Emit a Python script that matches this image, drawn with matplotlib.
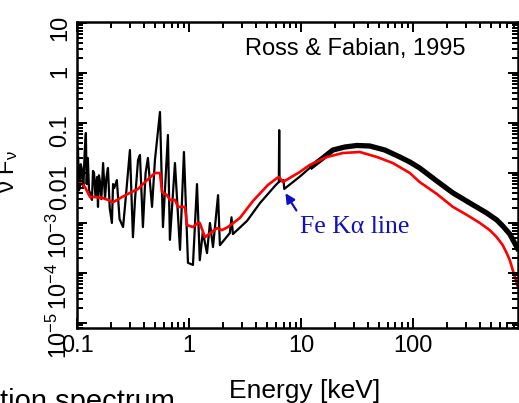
import matplotlib
matplotlib.use("Agg")
import matplotlib.pyplot as plt
import numpy as np
from matplotlib.ticker import LogLocator, FixedLocator, FixedFormatter, NullFormatter
from matplotlib.transforms import blended_transform_factory

plt.rcParams['font.family'] = ['Liberation Sans', 'DejaVu Sans']
plt.rcParams['mathtext.fontset'] = 'custom'
plt.rcParams['mathtext.rm'] = 'Liberation Sans'
plt.rcParams['mathtext.it'] = 'Liberation Sans'
plt.rcParams['mathtext.default'] = 'regular'

# Black: reflection spectrum (energy keV, nu F_nu)
black_E = [0.100, 0.102, 0.104, 0.106, 0.108, 0.111, 0.114, 0.117, 0.120, 0.122,
           0.125, 0.128, 0.131, 0.136, 0.139, 0.142, 0.146, 0.151, 0.154, 0.157,
           0.160, 0.165, 0.171, 0.178, 0.183, 0.189, 0.196, 0.205, 0.210, 0.215,
           0.227, 0.240, 0.258, 0.275, 0.297, 0.316, 0.330, 0.351, 0.365, 0.388,
           0.410, 0.430, 0.468, 0.497, 0.551, 0.586, 0.649, 0.676, 0.750, 0.832,
           0.902, 0.980, 1.086, 1.18, 1.25, 1.33, 1.45, 1.54, 1.64, 1.82,
           1.89, 2.32, 2.40, 2.47, 3.3, 4.31, 5.86, 6.35, 6.40, 6.45,
           7.0, 7.1, 8.5, 9.8, 12.0, 14.8, 19.3, 24.7, 31.6, 41.3,
           56.2, 76.5, 94, 115, 164, 228, 323, 458, 562, 636,
           735, 849, 883]
black_F = [0.0070, 0.033, 0.0045, 0.0050, 0.0150, 0.0115, 0.0050, 0.0250, 0.063, 0.0060,
           0.020, 0.0045, 0.0040, 0.0029, 0.0110, 0.0100, 0.0035, 0.0083, 0.0021, 0.0090,
           0.0070, 0.0030, 0.0158, 0.0030, 0.0080, 0.0126, 0.0020, 0.0010, 0.0060, 0.0050,
           0.0072, 0.0012, 0.00083, 0.0040, 0.0288, 0.00052, 0.0030, 0.0182, 0.0229, 0.00083,
           0.0100, 0.0200, 0.0021, 0.0182, 0.166, 0.00083, 0.0575, 0.00046, 0.0158, 0.00029,
           0.0263, 0.00016, 0.000145, 0.0060, 0.00018, 0.00066, 0.00025, 0.0010, 0.00033, 0.0036,
           0.00036, 0.00063, 0.0013, 0.00060, 0.0011, 0.0025, 0.0055, 0.0066, 0.072, 0.0068,
           0.0072, 0.0048, 0.0066, 0.0085, 0.0126, 0.018, 0.0288, 0.0331, 0.0355, 0.0347,
           0.0288, 0.0209, 0.0166, 0.0126, 0.0069, 0.0040, 0.00251, 0.00158, 0.00115, 0.00087,
           0.00060, 0.00033, 0.00028]

# Red: comparison spectrum
red_E = [0.100, 0.106, 0.118, 0.131, 0.145, 0.167, 0.189, 0.210, 0.252, 0.297,
         0.351, 0.405, 0.497, 0.551, 0.574, 0.637, 0.676, 0.750, 0.798, 0.921,
         0.960, 1.086, 1.20, 1.25, 1.39, 1.60, 1.78, 1.97, 2.23, 2.85,
         3.73, 5.07, 6.1, 6.4, 6.9, 8.5, 9.8, 12.0, 17.1, 23.7,
         33.6, 47.8, 66.3, 94, 115, 164, 228, 304, 397, 487,
         562, 636, 690, 735, 781, 832, 867]
red_F = [0.0063, 0.0066, 0.0052, 0.0033, 0.0033, 0.0032, 0.0029, 0.0026, 0.0033, 0.0040,
         0.0048, 0.0066, 0.0100, 0.0100, 0.0042, 0.0036, 0.0029, 0.0029, 0.0021, 0.0021,
         0.00091, 0.00083, 0.0010, 0.0010, 0.00052, 0.00066, 0.00079, 0.00072, 0.00083, 0.00126,
         0.00275, 0.00575, 0.0079, 0.0083, 0.0066, 0.0087, 0.0105, 0.0145, 0.0209, 0.0251,
         0.0263, 0.0209, 0.0158, 0.0100, 0.0066, 0.0038, 0.0021, 0.00145, 0.0010, 0.00072,
         0.00052, 0.00036, 0.00025, 0.00018, 0.000115, 0.000072, 0.000052]

x_ticks = [0.1, 1, 10, 100]
x_labels = ['0.1', '1', '10', '100']
y_ticks = [1e1, 1, 0.1, 0.01, 1e-3, 1e-4, 1e-5]
y_labels = ['10', '1', '0.1', '0.01', '$10^{-3}$', '$10^{-4}$', '$10^{-5}$']

W, H = 519, 403
AX_L, AX_B, AX_W, AX_H = 77, 75, 441, 306   # axes box in pixels
fig = plt.figure(figsize=(W / 100, H / 100), dpi=100)
ax = fig.add_axes([AX_L / W, AX_B / H, AX_W / W, AX_H / H])

ax.set_xscale('log'); ax.set_yscale('log')
ax.set_xlim(0.1, 870)
ax.set_ylim(10**-5.1, 10**1.02)

ax.xaxis.set_major_locator(FixedLocator(x_ticks))
ax.xaxis.set_major_formatter(FixedFormatter(x_labels))
ax.xaxis.set_minor_locator(LogLocator(base=10, subs=np.arange(2, 10), numticks=20))
ax.xaxis.set_minor_formatter(NullFormatter())
ax.yaxis.set_major_locator(FixedLocator(y_ticks))
ax.yaxis.set_major_formatter(FixedFormatter(y_labels))
ax.yaxis.set_minor_locator(LogLocator(base=10, subs=np.arange(2, 10), numticks=20))
ax.yaxis.set_minor_formatter(NullFormatter())

ax.tick_params(which='both', direction='in', top=True, right=True,
               bottom=True, left=True, width=1.4, color='black')
ax.tick_params(which='major', length=7)
ax.tick_params(which='minor', length=4)
ax.tick_params(axis='x', which='major', labelsize=17, pad=5)
ax.tick_params(axis='y', which='major', labelsize=17, pad=4, labelrotation=90)
for s in ax.spines.values():
    s.set_linewidth(1.8)

bE = np.array(black_E); bF = np.array(black_F)
ax.plot(bE, bF, color='black', lw=1.6, zorder=1.5)
m = bE >= 12
ax.plot(bE[m], bF[m], color='black', lw=3.8, solid_capstyle='butt', zorder=1.5)
ax.plot(red_E, red_F, color='#ff0000', lw=1.9, zorder=1.6)

# Explicit tick marks on all four sides (positions from the axis locators)
def draw_ticks():
    px = 100 / 72.0
    tr_x = blended_transform_factory(ax.transData, ax.transAxes)
    tr_y = blended_transform_factory(ax.transAxes, ax.transData)
    x0, x1 = ax.get_xlim(); y0, y1 = ax.get_ylim()
    for locs, L in [(ax.xaxis.get_majorticklocs(), 7), (ax.xaxis.get_minorticklocs(), 4)]:
        f = L * px / AX_H
        for v in locs:
            if x0 <= v <= x1:
                ax.plot([v, v], [0, f], transform=tr_x, color='k', lw=1.4,
                        solid_capstyle='butt', clip_on=False, zorder=3)
                ax.plot([v, v], [1, 1 - f], transform=tr_x, color='k', lw=1.4,
                        solid_capstyle='butt', clip_on=False, zorder=3)
    for locs, L in [(ax.yaxis.get_majorticklocs(), 7), (ax.yaxis.get_minorticklocs(), 4)]:
        f = L * px / AX_W
        for v in locs:
            if y0 <= v <= y1:
                ax.plot([0, f], [v, v], transform=tr_y, color='k', lw=1.4,
                        solid_capstyle='butt', clip_on=False, zorder=3)
                ax.plot([1, 1 - f], [v, v], transform=tr_y, color='k', lw=1.4,
                        solid_capstyle='butt', clip_on=False, zorder=3)

draw_ticks()

ax.set_ylabel('ν F$_ν$', fontsize=17)
ax.yaxis.set_label_coords(-0.13, 0.51)

fig.text(305 / W, 1 - 398 / H, 'Energy [keV]', fontsize=19, ha='center', va='baseline')
fig.text(0.0, 1 - 410 / H, 'tion spectrum', fontsize=21, ha='left', va='baseline')

ax.text(0.88, 0.892, 'Ross & Fabian, 1995', transform=ax.transAxes,
        fontsize=17, ha='right', va='baseline')

blue = '#1010c0'
ax.annotate('', xy=(7.05, 0.0044), xytext=(9.4, 0.0016),
            arrowprops=dict(arrowstyle='-|>', color=blue, lw=1.6, mutation_scale=14))
ax.text(9.8, 0.00063, 'Fe Kα line', color=blue, fontsize=18.5,
        family=['Liberation Serif', 'DejaVu Serif'], ha='left', va='baseline')

fig.savefig('out.png', dpi=100)
